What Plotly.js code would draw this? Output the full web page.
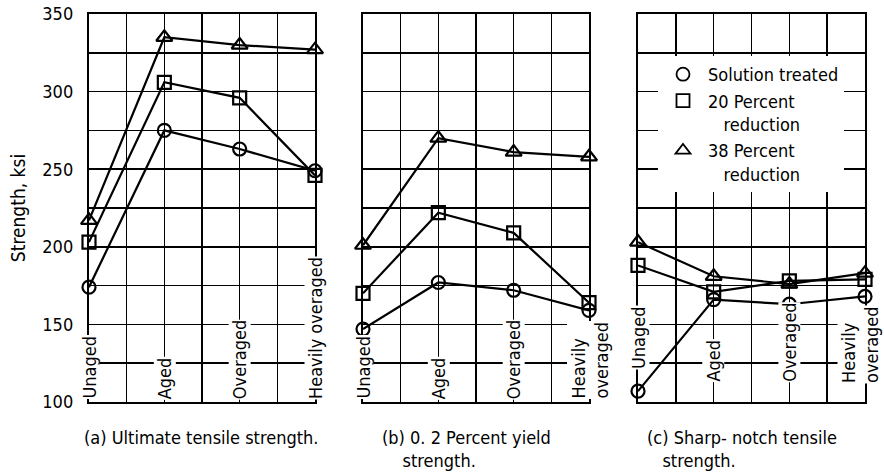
<!DOCTYPE html>
<html>
<head>
<meta charset="utf-8">
<script src="https://cdn.plot.ly/plotly-3.0.1.min.js"></script>
<style>html,body{margin:0;padding:0;background:#fff;}#chart{width:884px;height:472px;}</style>
</head>
<body>
<div id="chart"></div>
<script>
// ---- data ----
const categoryPositions = [0, 1, 2, 3];
const categoryLabelsA = ['Unaged', 'Aged', 'Overaged', 'Heavily overaged'];
const categoryLabelsBC = ['Unaged', 'Aged', 'Overaged', 'Heavily<br>overaged'];
const seriesNames = ['Solution treated', '20 Percent<br>\u00a0\u00a0\u00a0reduction', '38 Percent<br>\u00a0\u00a0\u00a0reduction'];

// (a) Ultimate tensile strength
const ultimateSolution = [174, 275, 263, 249];
const ultimate20 = [203, 306, 296, 246];
const ultimate38 = [217, 335, 330, 327];
// (b) 0.2 percent yield strength
const yieldSolution = [147, 177, 172, 159];
const yield20 = [170, 222, 209, 164];
const yield38 = [201, 270, 261, 258];
// (c) Sharp-notch tensile strength
const notchSolution = [107, 166, 163, 168];
const notch20 = [188, 171, 178, 179];
const notch38 = [203, 181, 176, 183];

const yTickVals = [100, 125, 150, 175, 200, 225, 250, 275, 300, 325, 350];
const yTickText = ['100', '', '150', '', '200', '', '250', '', '300', '', '350'];
const xGridVals = [0, 0.5, 1, 1.5, 2, 2.5, 3];
const subtitles = ['(a) Ultimate tensile strength.', '(b) 0. 2 Percent yield<br>\u00a0\u00a0\u00a0\u00a0strength.', '(c) Sharp- notch tensile<br>\u00a0\u00a0\u00a0strength.'];

// ---- styling ----
const FONT = '"DejaVu Sans Condensed", "Liberation Sans Narrow", "DejaVu Sans", sans-serif';
const W = 884, H = 472;
const symbols = ['circle-open', 'square-open', 'triangle-up-open'];
const sizes = [13, 13, 14];

const panels = [
  {xa: 'x', ya: 'y', data: [ultimateSolution, ultimate20, ultimate38]},
  {xa: 'x2', ya: 'y2', data: [yieldSolution, yield20, yield38]},
  {xa: 'x3', ya: 'y3', data: [notchSolution, notch20, notch38]}
];

const traces = [];
panels.forEach(p => {
  p.data.forEach((vals, i) => {
    traces.push({
      x: categoryPositions, y: vals, xaxis: p.xa, yaxis: p.ya,
      mode: 'lines+markers', showlegend: false, cliponaxis: false,
      line: {color: '#000', width: 2.2},
      marker: {symbol: symbols[i], size: sizes[i], color: '#000', line: {color: '#000', width: 2.2}}
    });
  });
});
// legend-only entries
seriesNames.forEach((name, i) => {
  traces.push({
    x: [null], y: [null], xaxis: 'x3', yaxis: 'y3', name: name,
    mode: 'markers', showlegend: true,
    marker: {symbol: symbols[i], size: 13, color: '#000', line: {color: '#000', width: 1.8}}
  });
});

const yDom = [1 - 402 / H, 1 - 14 / H];
const xDoms = [[89 / W, 315 / W], [363 / W, 589 / W], [638 / W, 865 / W]];

function xAxis(dom, anchor) {
  return {domain: dom, anchor: anchor, range: [0, 3], tickvals: xGridVals, showticklabels: false,
    ticks: '', showgrid: true, gridcolor: '#000', gridwidth: 1.6, showline: true, mirror: true,
    linecolor: '#000', linewidth: 2.2, zeroline: false, fixedrange: true};
}
function yAxis(anchor, showLabels) {
  return {domain: yDom, anchor: anchor, range: [100, 350], tickvals: yTickVals, ticktext: yTickText,
    showticklabels: showLabels, ticks: '', ticklabelstandoff: 10,
    tickfont: {family: FONT, size: 18, color: '#000'},
    showgrid: true, gridcolor: '#000', gridwidth: 1.6, showline: true, mirror: true,
    linecolor: '#000', linewidth: 2.2, zeroline: false, fixedrange: true};
}

const annotations = [];
const labelFont = {family: FONT, size: 18, color: '#000'};
const labelBottoms = [[100, 100, 100, 100], [100, 100, 100, 100], [119, 111, 111, 110]];
const labelShifts = [[0, 0, 0, 0], [0, 0, 0, 0], [0, 0, 0, -5]];
panels.forEach((p, pi) => {
  const labels = pi === 0 ? categoryLabelsA : categoryLabelsBC;
  labels.forEach((lab, i) => {
    annotations.push({
      xref: p.xa, yref: p.ya, x: categoryPositions[i], y: labelBottoms[pi][i],
      text: lab, textangle: -90, xanchor: 'center', yanchor: 'bottom', align: 'left',
      yshift: 2, xshift: labelShifts[pi][i], showarrow: false, bgcolor: '#fff', borderpad: 0, font: labelFont
    });
  });
});
const subX = [82, 380, 645];
subtitles.forEach((t, i) => {
  annotations.push({
    xref: 'paper', yref: 'paper', x: subX[i] / W, y: 1 - 425 / H, xanchor: 'left', yanchor: 'top',
    align: 'left', text: t, showarrow: false, font: {family: FONT, size: 18, color: '#000'}
  });
});

const layout = {
  width: W, height: H, margin: {l: 0, r: 0, t: 0, b: 0},
  paper_bgcolor: '#fff', plot_bgcolor: '#fff',
  font: {family: FONT, color: '#000'},
  xaxis: xAxis(xDoms[0], 'y'), xaxis2: xAxis(xDoms[1], 'y2'), xaxis3: xAxis(xDoms[2], 'y3'),
  yaxis: Object.assign(yAxis('x', true), {title: {text: 'Strength, ksi', font: {family: FONT, size: 19, color: '#000'}, standoff: 12}}),
  yaxis2: yAxis('x2', false), yaxis3: yAxis('x3', false),
  showlegend: true,
  legend: {x: 658 / W, y: 1 - 56 / H, xanchor: 'left', yanchor: 'top', bgcolor: '#fff', borderwidth: 0,
    font: {family: FONT, size: 18, color: '#000'}, valign: 'top', tracegroupgap: 0, traceorder: 'normal',
    itemwidth: 40},
  annotations: annotations
};

Plotly.newPlot('chart', traces, layout, {staticPlot: true, displayModeBar: false});
</script>
</body>
</html>
